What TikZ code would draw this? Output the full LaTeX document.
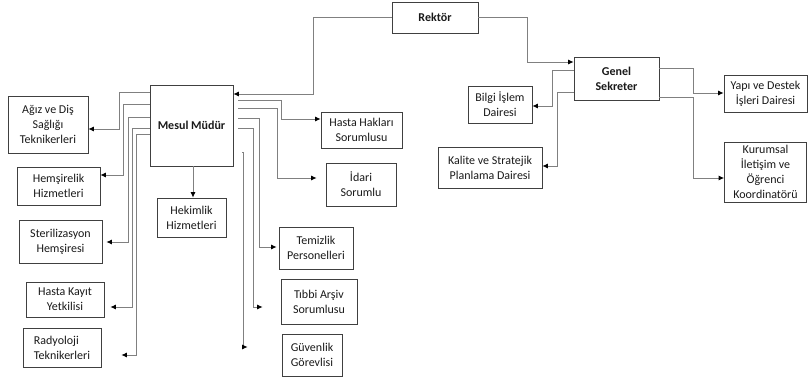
\documentclass[tikz,border=0pt]{standalone}
\usepackage{fontspec}
\setmainfont{Carlito}
\usetikzlibrary{arrows.meta}
\begin{document}
\begin{tikzpicture}[x=1pt,y=-1pt,
	box/.style={draw=black!75,line width=0.8pt,inner sep=0pt,align=center,text=black!90,font=\fontsize{12}{15}\selectfont},
	conn/.style={draw=black!50,line width=0.8pt,arrows={-{Latex[length=5.5pt,width=5pt,color=black]}}}]
	\useasboundingbox (0,0) rectangle (808,381);

	\node [box,minimum width=86,minimum height=31,font=\fontsize{12}{15}\selectfont\bfseries] (rektor) at (435,17.5) {Rektör};
	\node [box,minimum width=85,minimum height=43,font=\fontsize{12}{15}\selectfont\bfseries] (genel) at (616.5,78.5) {Genel\\Sekreter};
	\node [box,minimum width=83,minimum height=81,font=\fontsize{12}{15}\selectfont\bfseries] (mesul) at (191.5,125.5) {Mesul Müdür};

	\node [box,minimum width=80,minimum height=57] (agiz) at (48,124.5) {Ağız ve Diş\\Sağlığı\\Teknikerleri};
	\node [box,minimum width=83,minimum height=38] (hemsire) at (58.5,186) {Hemşirelik\\Hizmetleri};
	\node [box,minimum width=83,minimum height=43] (steril) at (60.5,241.5) {Sterilizasyon\\Hemşiresi};
	\node [box,minimum width=78,minimum height=35] (kayit) at (65,299.5) {Hasta Kayıt\\Yetkilisi};
	\node [box,minimum width=78,minimum height=39,align=left] (radyo) at (62,347.5) {Radyoloji\\Teknikerleri};
	\node [box,minimum width=69,minimum height=39] (hekim) at (191.5,217.5) {Hekimlik\\Hizmetleri};

	\node [box,minimum width=81,minimum height=36] (haklar) at (361.5,130) {Hasta Hakları\\Sorumlusu};
	\node [box,minimum width=70,minimum height=43] (idari) at (361,184.5) {İdari\\Sorumlu};
	\node [box,minimum width=74,minimum height=42] (temiz) at (316,248) {Temizlik\\Personelleri};
	\node [box,minimum width=76,minimum height=45] (tibbi) at (319,301.5) {Tıbbi Arşiv\\Sorumlusu};
	\node [box,minimum width=60,minimum height=42] (guven) at (312,355) {Güvenlik\\Görevlisi};

	\node [box,minimum width=64,minimum height=37] (bilgi) at (500,104.5) {Bilgi İşlem\\Dairesi};
	\node [box,minimum width=104,minimum height=41] (kalite) at (490,167.5) {Kalite ve Stratejik\\Planlama Dairesi};
	\node [box,minimum width=83,minimum height=37] (yapi) at (765.5,93.5) {Yapı ve Destek\\İşleri Dairesi};
	\node [box,minimum width=82,minimum height=60] (kurum) at (765.5,172) {Kurumsal\\İletişim ve\\Öğrenci\\Koordinatörü};

	\draw [conn] (rektor.west) -| (313,94) -- (mesul.east |- 0,94);
	\draw [conn] (rektor.east) -| (527,62) -- (genel.west |- 0,62);

	\draw [conn] (mesul.west |- 0,92) -| (119,129) -- (agiz.east |- 0,129);
	\draw [conn] (mesul.west |- 0,104) -| (123,175) -- (hemsire.east |- 0,175);
	\draw [conn,shorten >=4pt] (mesul.west |- 0,117) -| (128,242) -- (steril.east |- 0,242);
	\draw [conn,shorten >=6pt] (mesul.west |- 0,128) -| (132,307) -- (kayit.east |- 0,307);
	\draw [conn,shorten >=20pt] (mesul.west |- 0,134) -| (136,355) -- (radyo.east |- 0,355);
	\draw [conn] (mesul.south -| 193,0) -- (hekim.north -| 193,0);

	\draw [conn,shorten <=5pt] (mesul.east |- 0,100) -| (281,119) -- (haklar.west |- 0,119);
	\draw [conn,shorten <=5pt,shorten >=9pt] (mesul.east |- 0,108) -| (277,178) -- (idari.west |- 0,178);
	\draw [conn,shorten <=5pt,shorten >=2pt] (mesul.east |- 0,118) -| (259,247) -- (temiz.west |- 0,247);
	\draw [conn,shorten <=5pt,shorten >=18pt] (mesul.east |- 0,128) -| (253,307) -- (tibbi.west |- 0,307);
	\draw [conn,shorten <=9pt,shorten >=34pt] (mesul.east |- 0,152) -| (243,347) -- (guven.west |- 0,347);

	\draw [conn] (genel.west |- 0,70) -| (552,106) -- (bilgi.east |- 0,106);
	\draw [conn] (genel.west |- 0,92) -| (557,166) -- (kalite.east |- 0,166);
	\draw [conn] (genel.east |- 0,68) -| (693,93) -- (yapi.west |- 0,93);
	\draw [conn] (genel.east |- 0,97) -| (693,178) -- (kurum.west |- 0,178);
\end{tikzpicture}
\end{document}
